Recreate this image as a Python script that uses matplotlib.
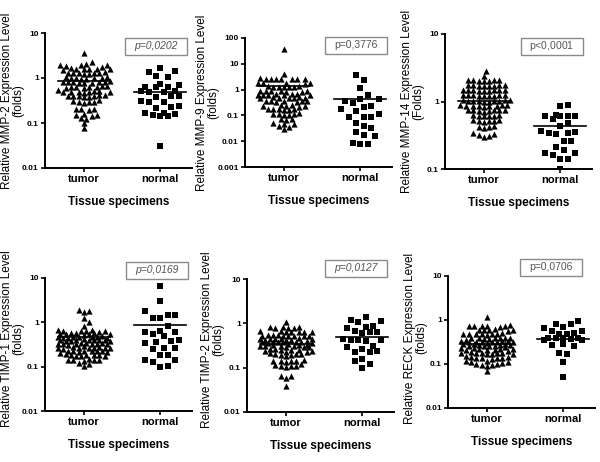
import numpy as np
import matplotlib
matplotlib.use("Agg")
import matplotlib.pyplot as plt
from matplotlib.patches import Rectangle
from matplotlib.ticker import FixedLocator, FixedFormatter, NullLocator

plt.rcParams["font.family"] = ["Liberation Sans", "DejaVu Sans"]
plt.rcParams["mathtext.fontset"] = "custom"
plt.rcParams["mathtext.rm"] = "Liberation Sans"
plt.rcParams["mathtext.it"] = "Liberation Sans:italic"
NARROW = ["Liberation Sans Narrow", "Liberation Sans", "DejaVu Sans"]

GROUPS = ["tumor", "normal"]

# ── values (relative expression, folds) ──────────────────────────────────────
mmp2_tumor = [3.6, 2.3, 2.0, 1.9, 1.85, 1.95, 1.8, 1.9, 1.6, 1.55, 1.65, 1.6, 1.5, 1.62,
              1.58, 1.3, 1.25, 1.35, 1.3, 1.28, 1.32, 1.22, 1.3, 1.02, 1.0, 0.98, 1.05,
              0.95, 1.0, 1.03, 0.97, 0.8, 0.78, 0.82, 0.8, 0.76, 0.84, 0.8, 0.79, 0.81,
              0.64, 0.62, 0.66, 0.6, 0.65, 0.63, 0.61, 0.64, 0.5, 0.52, 0.48, 0.5, 0.51,
              0.49, 0.53, 0.5, 0.47, 0.4, 0.39, 0.41, 0.38, 0.4, 0.42, 0.37, 0.4, 0.31,
              0.3, 0.29, 0.32, 0.3, 0.28, 0.2, 0.19, 0.21, 0.2, 0.15, 0.16, 0.14, 0.15,
              0.13, 0.125, 0.1, 0.077]
mmp2_normal = [1.67, 1.41, 1.38, 1.08, 1.05, 0.72, 0.7, 0.64, 0.62, 0.63, 0.5, 0.52, 0.49,
               0.51, 0.39, 0.4, 0.38, 0.3, 0.31, 0.29, 0.23, 0.24, 0.22, 0.17, 0.16, 0.17,
               0.145, 0.14, 0.15, 0.031]

mmp9_tumor = [38, 4.2, 2.6, 2.5, 2.7, 2.6, 2.55, 2.65, 2.5, 2.6, 1.8, 1.75, 1.85, 1.8, 1.7,
              1.3, 1.35, 1.25, 1.3, 1.28, 1.32, 1.3, 0.86, 0.88, 0.84, 0.9, 0.85, 0.87,
              0.83, 0.64, 0.62, 0.66, 0.65, 0.63, 0.6, 0.67, 0.64, 0.48, 0.47, 0.5, 0.49,
              0.46, 0.48, 0.51, 0.35, 0.34, 0.36, 0.35, 0.33, 0.37, 0.35, 0.24, 0.25, 0.23,
              0.24, 0.26, 0.22, 0.17, 0.16, 0.18, 0.17, 0.165, 0.175, 0.11, 0.12, 0.105,
              0.11, 0.115, 0.1, 0.07, 0.072, 0.068, 0.048, 0.05, 0.046, 0.038, 0.036, 0.03]
mmp9_normal = [3.7, 2.4, 1.16, 0.64, 0.44, 0.42, 0.35, 0.3, 0.23, 0.22, 0.17, 0.145, 0.11,
               0.088, 0.09, 0.085, 0.05, 0.038, 0.033, 0.022, 0.017, 0.016, 0.0086, 0.008,
               0.0078]

mmp14_tumor = [2.8, 2.4, 2.05, 2.0, 2.1, 2.05, 1.98, 2.02, 2.08, 1.73, 1.7, 1.75, 1.72, 1.78,
               1.68, 1.74, 1.71, 1.46, 1.45, 1.48, 1.44, 1.47, 1.5, 1.43, 1.46, 1.49, 1.23,
               1.22, 1.25, 1.2, 1.24, 1.21, 1.26, 1.23, 1.19, 1.03, 1.02, 1.05, 1.0, 1.04,
               1.01, 1.06, 1.03, 0.99, 1.02, 0.87, 0.86, 0.88, 0.85, 0.89, 0.87, 0.84, 0.9,
               0.86, 0.74, 0.73, 0.75, 0.72, 0.76, 0.74, 0.71, 0.75, 0.62, 0.61, 0.63, 0.6,
               0.64, 0.62, 0.52, 0.51, 0.53, 0.5, 0.54, 0.52, 0.42, 0.41, 0.43, 0.42, 0.33,
               0.34, 0.32, 0.3, 0.31]
mmp14_normal = [0.89, 0.87, 0.62, 0.6, 0.61, 0.6, 0.63, 0.55, 0.48, 0.44, 0.36, 0.34, 0.35,
                0.34, 0.33, 0.26, 0.26, 0.21, 0.19, 0.17, 0.16, 0.17, 0.14, 0.14, 0.1]

timp1_tumor = [1.9, 1.8, 1.7, 1.25, 1.0, 0.84, 0.65, 0.64, 0.66, 0.63, 0.67, 0.65, 0.62,
               0.55, 0.56, 0.54, 0.55, 0.57, 0.53, 0.55, 0.56, 0.46, 0.47, 0.45, 0.46, 0.48,
               0.44, 0.46, 0.47, 0.45, 0.39, 0.38, 0.4, 0.39, 0.37, 0.41, 0.39, 0.38, 0.4,
               0.39, 0.33, 0.32, 0.34, 0.33, 0.31, 0.35, 0.33, 0.32, 0.34, 0.33, 0.27, 0.28,
               0.26, 0.27, 0.29, 0.27, 0.25, 0.28, 0.27, 0.26, 0.22, 0.21, 0.23, 0.22, 0.2,
               0.22, 0.23, 0.21, 0.22, 0.18, 0.17, 0.19, 0.18, 0.175, 0.185, 0.18, 0.17,
               0.14, 0.145, 0.135, 0.14, 0.15, 0.14, 0.115, 0.12, 0.105]
timp1_normal = [6.7, 3.0, 1.77, 1.5, 1.5, 1.25, 1.25, 0.84, 0.6, 0.5, 0.65, 0.55, 0.6, 0.39,
                0.38, 0.35, 0.36, 0.25, 0.27, 0.26, 0.18, 0.18, 0.14, 0.14, 0.125, 0.105, 0.1]

timp2_tumor = [1.08, 0.81, 0.8, 0.82, 0.79, 0.83, 0.8, 0.65, 0.64, 0.66, 0.63, 0.67, 0.65,
               0.64, 0.53, 0.52, 0.54, 0.51, 0.55, 0.53, 0.52, 0.54, 0.53, 0.44, 0.43, 0.45,
               0.44, 0.42, 0.46, 0.44, 0.43, 0.45, 0.37, 0.36, 0.38, 0.37, 0.35, 0.39, 0.37,
               0.36, 0.38, 0.37, 0.31, 0.3, 0.32, 0.31, 0.29, 0.33, 0.31, 0.3, 0.32, 0.31,
               0.25, 0.24, 0.26, 0.25, 0.23, 0.27, 0.25, 0.24, 0.2, 0.19, 0.21, 0.2, 0.18,
               0.22, 0.2, 0.19, 0.14, 0.145, 0.135, 0.14, 0.15, 0.14, 0.11, 0.115, 0.105,
               0.11, 0.12, 0.11, 0.066, 0.064, 0.06, 0.039]
timp2_normal = [1.4, 1.2, 1.15, 1.05, 0.86, 0.82, 0.8, 0.68, 0.63, 0.62, 0.64, 0.41, 0.42,
                0.44, 0.43, 0.4, 0.31, 0.3, 0.26, 0.24, 0.22, 0.23, 0.16, 0.14, 0.1, 0.12]

reck_tumor = [1.15, 0.73, 0.72, 0.74, 0.71, 0.75, 0.73, 0.72, 0.59, 0.58, 0.6, 0.57, 0.61,
              0.59, 0.48, 0.47, 0.49, 0.46, 0.5, 0.48, 0.47, 0.49, 0.38, 0.37, 0.39, 0.36,
              0.4, 0.38, 0.37, 0.39, 0.38, 0.32, 0.31, 0.33, 0.3, 0.34, 0.32, 0.31, 0.33,
              0.32, 0.31, 0.27, 0.26, 0.28, 0.25, 0.29, 0.27, 0.26, 0.28, 0.27, 0.26, 0.22,
              0.21, 0.23, 0.2, 0.24, 0.22, 0.21, 0.23, 0.22, 0.21, 0.175, 0.17, 0.18, 0.165,
              0.185, 0.175, 0.17, 0.18, 0.175, 0.14, 0.135, 0.145, 0.13, 0.15, 0.14, 0.135,
              0.145, 0.11, 0.105, 0.115, 0.1, 0.12, 0.11, 0.095, 0.098, 0.092, 0.096, 0.07]
reck_normal = [0.97, 0.8, 0.81, 0.67, 0.68, 0.56, 0.55, 0.5, 0.47, 0.48, 0.38, 0.39, 0.37,
               0.38, 0.36, 0.35, 0.39, 0.27, 0.28, 0.25, 0.17, 0.18, 0.11, 0.05]

# centre lines (tumor, normal) as drawn in the figure
center_lines = [(0.84, 0.5), (1.35, 0.44), (1.03, 0.43), (0.46, 0.87), (0.34, 0.48), (0.28, 0.37)]

ylabels = [
    "Relative MMP-2 Expression Level\n(folds)",
    "Relative MMP-9 Expression Level\n(folds)",
    "Relative MMP-14 Expression Level\n(Folds)",
    "Relative TIMP-1 Expression Level\n(folds)",
    "Relative TIMP-2 Expression Level\n(folds)",
    "Relative RECK Expression Level\n(folds)",
]
p_texts = ["p=0,0202", "p=0,3776", r"p<$\mathit{0{,}0001}$", "p=0,0169", "p=0,0127", "p=0,0706"]
p_italic = [True, False, False, True, True, False]

ytick_values = [
    [0.01, 0.1, 1, 10],
    [0.001, 0.01, 0.1, 1, 10, 100],
    [0.1, 1, 10],
    [0.01, 0.1, 1, 10],
    [0.01, 0.1, 1, 10],
    [0.01, 0.1, 1, 10],
]
ytick_labels = [
    ["0.01", "0.1", "1", "10"],
    ["0.001", "0.01", "0.1", "1", "10", "100"],
    ["0.1", "1", "10"],
    ["0.01", "0.1", "1", "10"],
    ["0.01", "0.1", "1", "10"],
    ["0.01", "0.1", "1", "10"],
]

data = [
    (mmp2_tumor, mmp2_normal),
    (mmp9_tumor, mmp9_normal),
    (mmp14_tumor, mmp14_normal),
    (timp1_tumor, timp1_normal),
    (timp2_tumor, timp2_normal),
    (reck_tumor, reck_normal),
]

# axes boxes in pixels: left, top, right, bottom
W, H = 600, 462
AX_PX = [(45, 33, 192, 168), (245, 38, 392, 167), (445, 34, 592, 169),
         (45, 278, 192, 411), (247, 279, 394, 412), (448, 276, 595, 408)]
# p-value box centres in pixels
PBOX_PX = [(156, 46), (356, 45), (552, 46), (157, 270), (356, 268), (551, 267)]
# y label: gap to the spine (px) and vertical centre (axes fraction)
YLABEL_GAP = [21, 26, 21, 21, 23, 21]
YLABEL_Y = [0.5, 0.5, 0.5, 0.545, 0.545, 0.53]


def swarm_x(ax, xc, values, dx, dy, cap):
    """Beeswarm layout in pixel space (elliptic spacing, capped width)."""
    pts = ax.transData.transform(np.column_stack([np.full(len(values), xc), values]))
    ys = pts[:, 1]
    px_per_unit = ax.transData.transform((1, 1))[0] - ax.transData.transform((0, 1))[0]
    cands = [0.0]
    k = 1
    while k * dx / 2 <= cap:
        cands += [k * dx / 2, -k * dx / 2]
        k += 1
    offs = np.zeros(len(values))
    placed = []
    for i in np.argsort(ys):
        best, best_d = 0.0, -1.0
        for c in cands:
            dmin = min([((c - px) / dx) ** 2 + ((ys[i] - py) / dy) ** 2 for px, py in placed],
                       default=9.0)
            if dmin >= 1.0:
                best = c
                break
            if dmin > best_d:
                best, best_d = c, dmin
        offs[i] = best
        placed.append((best, ys[i]))
    return xc + offs / px_per_unit


fig = plt.figure(figsize=(6, 4.62), dpi=100)

for idx in range(6):
    l, t, r, b = AX_PX[idx]
    ax = fig.add_axes([l / W, 1 - b / H, (r - l) / W, (b - t) / H])
    ax.set_yscale("log")
    ax.set_ylim(ytick_values[idx][0], ytick_values[idx][-1])
    ax.set_xlim(-0.51, 1.42)

    tumor, normal = data[idx]
    xt = swarm_x(ax, 0, tumor, dx=5.2, dy=4.6, cap=26)
    xn = swarm_x(ax, 1, normal, dx=7.5, dy=9.0, cap=22)
    ax.scatter(xt, tumor, marker="^", s=20, color="black", linewidths=0, zorder=3)
    ax.scatter(xn, normal, marker="s", s=14, color="black", linewidths=0, zorder=3)

    for xc, val in zip([0, 1], center_lines[idx]):
        ax.plot([xc - 0.34, xc + 0.34], [val, val], color="black", lw=1.2, zorder=4)

    for side in ["top", "right"]:
        ax.spines[side].set_visible(False)
    for side in ["left", "bottom"]:
        ax.spines[side].set_linewidth(1.4)

    ax.yaxis.set_major_locator(FixedLocator(ytick_values[idx]))
    ax.yaxis.set_major_formatter(FixedFormatter(ytick_labels[idx]))
    ax.yaxis.set_minor_locator(NullLocator())
    ax.set_xticks([0, 1])
    ax.set_xticklabels(GROUPS)
    ax.tick_params(axis="both", length=3, width=1.2, pad=1.5)
    for lab in ax.get_yticklabels():
        lab.set_fontsize(6)
        lab.set_fontweight("bold")
        lab.set_family(NARROW)
    for lab in ax.get_xticklabels():
        lab.set_fontsize(8)
        lab.set_fontweight("bold")
        lab.set_family(NARROW)

    ax.set_ylabel(ylabels[idx], fontsize=8.5, linespacing=0.88)
    ax.yaxis.set_label_coords(-YLABEL_GAP[idx] / (r - l), YLABEL_Y[idx])
    ax.set_xlabel("Tissue specimens", fontsize=8.5, fontweight="bold", family=NARROW)
    ax.xaxis.set_label_coords(0.5, -28 / (b - t))

    cx, cy = PBOX_PX[idx]
    bw, bh = 62, 17
    fx, fy = (cx - l) / (r - l), (b - cy) / (b - t)
    ax.add_patch(Rectangle((fx - bw / 2 / (r - l), fy - bh / 2 / (b - t)),
                           bw / (r - l), bh / (b - t), transform=ax.transAxes,
                           fill=False, edgecolor="#8a8a8a", lw=1.0, clip_on=False))
    ax.text(fx, fy, p_texts[idx], transform=ax.transAxes, ha="center", va="center",
            fontsize=7.5, color="#555555",
            style="italic" if p_italic[idx] else "normal")

fig.savefig("out.png", dpi=100)
